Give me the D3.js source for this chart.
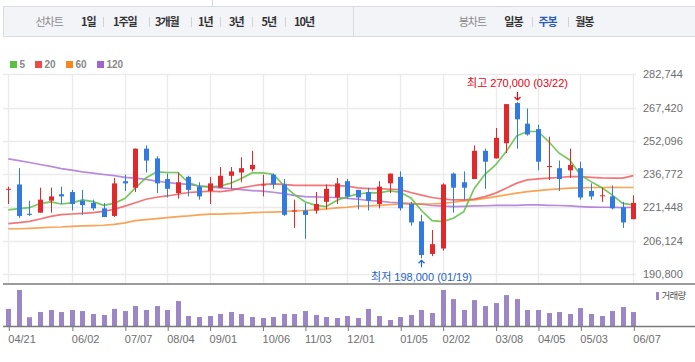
<!DOCTYPE html>
<html>
<head>
<meta charset="utf-8">
<script src="https://cdn.jsdelivr.net/npm/d3@7/dist/d3.min.js"></script>
<style>
body { margin: 0; background: #fff; }
svg { display: block; font-family: "Liberation Sans", Arial, "Noto Sans CJK KR", sans-serif; }
.kr { font-family: "Noto Sans CJK KR", sans-serif; }
</style>
</head>
<body>
<svg width="695" height="362"></svg>
<script>
// weekly candles, 2023-04-21 .. 2024-06-07
var weeks = ["2023-04-21","2023-04-28","2023-05-05","2023-05-12","2023-05-19","2023-05-26","2023-06-02","2023-06-09","2023-06-16","2023-06-23",
  "2023-06-30","2023-07-07","2023-07-14","2023-07-21","2023-07-28","2023-08-04","2023-08-11","2023-08-18","2023-08-25","2023-09-01",
  "2023-09-08","2023-09-15","2023-09-22","2023-09-29","2023-10-06","2023-10-13","2023-10-20","2023-10-27","2023-11-03","2023-11-10",
  "2023-11-17","2023-11-24","2023-12-01","2023-12-08","2023-12-15","2023-12-22","2023-12-29","2024-01-05","2024-01-12","2024-01-19",
  "2024-01-26","2024-02-02","2024-02-09","2024-02-16","2024-02-23","2024-03-01","2024-03-08","2024-03-15","2024-03-22","2024-03-29",
  "2024-04-05","2024-04-12","2024-04-19","2024-04-26","2024-05-03","2024-05-10","2024-05-17","2024-05-24","2024-05-31","2024-06-07"];

var open  = [230000,232000,218500,219000,224500,227500,228500,224500,223500,221000,
             217500,233500,230500,248500,244000,234500,228000,235500,231000,229000,
             230500,236000,237500,239000,232000,236500,232000,220000,220000,220000,
             224000,226000,233500,229500,228500,223000,232500,235500,223000,215000,
             200000,202500,237000,233000,234500,247500,244000,251000,269500,260000,
             257500,240500,239500,238500,239500,229000,227000,226500,221500,216000];
var high  = [231000,239500,224500,230500,230500,231000,229500,229500,225000,223500,
             235000,236500,248500,250000,245000,237000,237500,236000,233000,235500,
             240000,240000,244500,247500,236500,237000,234500,225000,223500,228500,
             232000,235000,234500,229500,230500,233500,237000,238000,224000,218000,
             211000,232500,237500,238000,250000,248500,258000,269000,270000,267000,
             259500,254000,243000,248500,242500,232500,230500,231500,224000,227000];
var low   = [223000,216500,217500,219000,219000,223000,220000,218000,220000,217000,
             217000,229000,228500,237500,228000,226000,225500,226500,225000,223000,
             230500,230000,233000,238000,226500,230000,217500,212000,207000,218500,
             220500,223000,225500,220500,220000,221000,228000,220000,213000,198000,
             199000,201500,219000,225000,234500,230000,244000,246500,248500,254500,
             238500,234000,229000,235000,225000,225000,224000,220500,212000,216000];
var close = [230000,217500,218000,225000,226500,226500,223000,222500,221000,217000,
             232500,232500,248500,243000,232500,230000,233000,229500,226500,232500,
             236000,238000,239500,241000,232000,232000,218000,220000,218000,223000,
             230000,232500,226500,226000,224500,231000,237000,221000,214500,199500,
             204500,232000,230500,230500,247500,242500,253500,269000,262000,255000,
             242500,240500,234500,241000,226000,226500,227000,221000,214500,223500];

// volume, thousand shares
var volume = [172,361,88,140,160,140,160,150,120,110,
              172,150,200,160,200,160,250,100,90,100,
              120,140,120,90,80,90,120,120,150,110,
              90,80,100,80,172,100,60,90,110,160,
              130,361,270,160,260,200,230,310,270,160,
              160,130,140,120,180,120,100,150,190,140];

// moving averages
var ma5   = [220300,220900,221300,223200,224000,223000,223500,224900,224100,222400,
             223300,225500,230400,235000,237800,237500,237500,232900,231200,230900,
             231300,232600,234700,237300,237300,236700,231600,227300,224000,222400,
             221800,224600,226400,227600,228100,228100,229000,228400,225800,220000,
             215300,214900,216400,219500,230300,236700,241000,247200,254400,256400,
             256400,251800,246400,243300,236400,233300,230600,227200,223300,222600];
var ma20  = [214000,214400,215000,216100,217300,218100,218400,218700,219000,219600,
             220600,222000,223600,225200,226100,226700,227500,228300,228600,228900,
             228700,229300,230400,231300,232000,232300,232000,231600,231600,231600,
             231600,231500,231200,230400,230100,230100,229800,229600,228300,227100,
             226000,225300,224900,224900,225300,226400,228000,230300,232600,234100,
             234600,234900,235200,235600,235600,235300,235000,234900,234900,236100];
var ma60  = [211600,211600,211800,212000,212300,212400,212700,212900,213000,213200,
             213600,214300,215300,215800,216300,216700,217200,217500,218000,218300,
             218300,218600,218700,219000,219200,219300,219500,219800,220000,220300,
             220700,221200,221500,222000,222100,222400,222700,223000,223200,223000,
             223000,223300,223800,224400,224900,225600,226400,227200,228000,228700,
             229200,229600,230000,230300,230400,230600,230600,230700,230600,230600];
var ma120 = [243800,243000,242100,241200,240300,239300,238600,237800,237200,236600,
             236100,235300,234900,234300,233500,232900,232400,232000,231300,230900,
             230400,230100,229600,229200,228900,228400,227800,227000,226400,226300,
             226100,226000,225600,225200,224600,224300,223800,223500,223200,222900,
             222300,222000,221800,221900,222100,222200,222400,222400,222400,222600,
             222600,222400,222300,222100,221800,221600,221500,221500,221300,221500];

var priceTicks = [190800,206124,221448,236772,252096,267420,282744];
var tickWeeks = ["2023-04-21","2023-06-02","2023-07-07","2023-08-04","2023-09-01","2023-10-06","2023-11-03",
                 "2023-12-01","2024-01-05","2024-02-02","2024-03-08","2024-04-05","2024-05-03","2024-06-07"];
var tickLabels = ["04/21","06/02","07/07","08/04","09/01","10/06","11/03","12/01","01/05","02/02","03/08","04/05","05/03","06/07"];

var maNames = ["5","20","60","120"];
var maColors = ["#5cbf3f","#ef4848","#f7861e","#a064d2"];
var maSeries = [ma5, ma20, ma60, ma120];

var lineTabs = ["1일","1주일","3개월","1년","3년","5년","10년"];
var candleTabs = ["일봉","주봉","월봉"];

var svg = d3.select("svg");
var UP = "#e2282a", DOWN = "#3279e0";

var data = weeks.map(function(w, i) {
  return {week: w, o: open[i], h: high[i], l: low[i], c: close[i], v: volume[i]};
});

var x = d3.scalePoint().domain(weeks).range([8.3, 633.3]);
var y = d3.scaleLinear().domain([190800, 282744]).range([273.9, 74.3]);
var yv = d3.scaleLinear().domain([0, 361]).range([326, 290]);
function cx(w) { return Math.round(x(w)); }

// ---- top tab bar
var bar = svg.append("g");
bar.append("line").attr("x1", 212.5).attr("x2", 212.5).attr("y1", 0).attr("y2", 6).attr("stroke", "#d6d8de");
bar.append("rect").attr("x", 3.5).attr("y", 6.5).attr("width", 700).attr("height", 30)
  .attr("fill", "#f3f4f8").attr("stroke", "#d9dbe1");
bar.append("line").attr("x1", 353.5).attr("x2", 353.5).attr("y1", 7).attr("y2", 36).attr("stroke", "#d9dbe1");

var tabX = [81, 113, 155, 198, 229, 261.5, 294];
var sepX = [103.3, 148.5, 190.6, 220.3, 251.7, 285];
var ctabX = [504.3, 538.4, 575.2];
var csepX = [531.8, 568.1];

bar.append("text").attr("class", "kr").attr("x", 35.5).attr("y", 22).attr("dy", "0.35em")
  .style("font-size", "11px").style("letter-spacing", "-1px").attr("fill", "#8a8a8a").text("선차트");
bar.append("text").attr("class", "kr").attr("x", 458.7).attr("y", 22).attr("dy", "0.35em")
  .style("font-size", "11px").style("letter-spacing", "-1px").attr("fill", "#8a8a8a").text("봉차트");

bar.selectAll(".ltab").data(lineTabs).enter().append("text")
  .attr("class", "kr").attr("x", function(d, i) { return tabX[i]; }).attr("y", 22).attr("dy", "0.35em")
  .style("font-size", "11px").style("font-weight", "bold").style("letter-spacing", "-1px")
  .attr("fill", "#333").text(function(d) { return d; });
bar.selectAll(".ctab").data(candleTabs).enter().append("text")
  .attr("class", "kr").attr("x", function(d, i) { return ctabX[i]; }).attr("y", 22).attr("dy", "0.35em")
  .style("font-size", "11px").style("font-weight", "bold").style("letter-spacing", "-1px")
  .attr("fill", function(d) { return d == "주봉" ? "#2a5bb5" : "#333"; }).text(function(d) { return d; });
bar.selectAll(".sep").data(sepX.concat(csepX)).enter().append("line")
  .attr("x1", function(d) { return Math.round(d) + 0.5; }).attr("x2", function(d) { return Math.round(d) + 0.5; })
  .attr("y1", 17).attr("y2", 27).attr("stroke", "#cfd1d6");

// ---- legend
var leg = svg.append("g");
var legX = [10, 35, 66, 97];
maNames.forEach(function(n, i) {
  leg.append("rect").attr("x", legX[i]).attr("y", 61).attr("width", 7).attr("height", 7).attr("fill", maColors[i]);
  leg.append("text").attr("x", legX[i] + 9.5).attr("y", 64.5).attr("dy", "0.35em")
    .style("font-size", "10px").style("font-weight", "bold").attr("fill", "#888").text(n);
});

// ---- grid
var grid = svg.append("g");
grid.selectAll(".hg").data(priceTicks).enter().append("line")
  .attr("x1", 3).attr("x2", 636)
  .attr("y1", function(d) { return Math.round(y(d)) + 0.5; }).attr("y2", function(d) { return Math.round(y(d)) + 0.5; })
  .attr("stroke", "#ebebeb").attr("stroke-width", 1.3);
grid.selectAll(".vg").data(tickWeeks).enter().append("line")
  .attr("x1", function(d) { return cx(d) + 0.5; }).attr("x2", function(d) { return cx(d) + 0.5; })
  .attr("y1", 74).attr("y2", 284)
  .attr("stroke", "#ebebeb").attr("stroke-width", 1.3);

// right price axis
svg.append("g").attr("transform", "translate(640,0)")
  .call(d3.axisRight(y).tickValues(priceTicks).tickFormat(d3.format(",")).tickSize(0).tickPadding(3))
  .call(function(g) { g.select(".domain").remove(); })
  .selectAll("text").style("font-size", "11px").attr("fill", "#6e6e6e")
  .style("font-family", "'Liberation Sans', Arial, sans-serif");

// ---- moving averages
var line = d3.line().x(function(d, i) { return x(weeks[i]); }).y(function(d) { return y(d); });
maSeries.slice().reverse().forEach(function(s, k) {
  var i = maSeries.length - 1 - k;
  svg.append("path").datum(s).attr("d", line).attr("fill", "none")
    .attr("stroke", maColors[i]).attr("stroke-width", 1.7).attr("stroke-opacity", i == 0 ? 0.85 : 0.75);
});

// ---- candles
var candles = svg.append("g").selectAll("g").data(data).enter().append("g");
candles.append("line")
  .attr("x1", function(d) { return cx(d.week) + 0.5; }).attr("x2", function(d) { return cx(d.week) + 0.5; })
  .attr("y1", function(d) { return y(d.h); }).attr("y2", function(d) { return y(d.l); })
  .attr("stroke", function(d) { return d.c >= d.o ? UP : DOWN; });
candles.append("rect")
  .attr("x", function(d) { return cx(d.week) - 2; }).attr("width", 5)
  .attr("y", function(d) { return y(Math.max(d.o, d.c)); })
  .attr("height", function(d) { return Math.max(1, Math.abs(y(d.o) - y(d.c))); })
  .attr("fill", function(d) { return d.c >= d.o ? UP : DOWN; });

// high / low marks
var hi = data[d3.maxIndex(data, function(d) { return d.h; })];
var lo = data[d3.minIndex(data, function(d) { return d.l; })];
var hx = cx(hi.week) + 0.5, lx = cx(lo.week) + 0.5;
svg.append("path").attr("d", "M" + hx + "," + (y(hi.h) - 10) + "V" + (y(hi.h) - 2) + "M" + (hx - 3) + "," + (y(hi.h) - 5) + "L" + hx + "," + (y(hi.h) - 2) + "L" + (hx + 3) + "," + (y(hi.h) - 5))
  .attr("fill", "none").attr("stroke", "#e60012").attr("stroke-width", 1.2);
svg.append("text").attr("x", hx).attr("y", y(hi.h) - 19).attr("dy", "0.35em").attr("text-anchor", "middle")
  .style("font-size", "11px").attr("fill", "#e60012")
  .text("최고 " + d3.format(",")(hi.h) + " (" + hi.week.slice(5).replace("-", "/") + ")");
svg.append("path").attr("d", "M" + lx + "," + (y(lo.l) + 9) + "V" + (y(lo.l) + 2) + "M" + (lx - 3) + "," + (y(lo.l) + 5) + "L" + lx + "," + (y(lo.l) + 2) + "L" + (lx + 3) + "," + (y(lo.l) + 5))
  .attr("fill", "none").attr("stroke", "#1f63c6").attr("stroke-width", 1.2);
svg.append("text").attr("x", lx).attr("y", y(lo.l) + 18.5).attr("dy", "0.35em").attr("text-anchor", "middle")
  .style("font-size", "11px").attr("fill", "#1f63c6")
  .text("최저 " + d3.format(",")(lo.l) + " (" + lo.week.slice(5).replace("-", "/") + ")");

// ---- separator between panes
svg.append("line").attr("x1", 3).attr("x2", 695).attr("y1", 284).attr("y2", 284)
  .attr("stroke", "#7a7a7a").attr("stroke-width", 1.5);

// ---- volume
svg.append("g").selectAll("rect").data(data).enter().append("rect")
  .attr("x", function(d) { return cx(d.week) - 2; }).attr("width", 5)
  .attr("y", function(d) { return yv(d.v); })
  .attr("height", function(d) { return yv(0) - yv(d.v); })
  .attr("fill", "#9b86c6");
svg.append("rect").attr("x", 656).attr("y", 292).attr("width", 3).attr("height", 8).attr("fill", "#9b86c6");
svg.append("text").attr("class", "kr").attr("x", 661.5).attr("y", 296).attr("dy", "0.35em")
  .style("font-size", "9.5px").style("letter-spacing", "-0.8px").attr("fill", "#555").text("거래량");

// bottom date axis
var xAxis = svg.append("g").attr("transform", "translate(0.5,326)")
  .call(d3.axisBottom(x).tickValues(tickWeeks).tickSize(5).tickPadding(4)
    .tickFormat(function(d, i) { return tickLabels[i]; }));
xAxis.select(".domain").remove();
xAxis.selectAll(".tick line").attr("stroke", "#7a7a7a");
xAxis.selectAll("text").attr("text-anchor", "start").attr("x", -1)
  .style("font-size", "11px").attr("fill", "#6e6e6e")
  .style("font-family", "'Liberation Sans', Arial, sans-serif");
svg.append("line").attr("x1", 3).attr("x2", 695).attr("y1", 326.5).attr("y2", 326.5)
  .attr("stroke", "#7a7a7a").attr("stroke-width", 1.3);
</script>
</body>
</html>
